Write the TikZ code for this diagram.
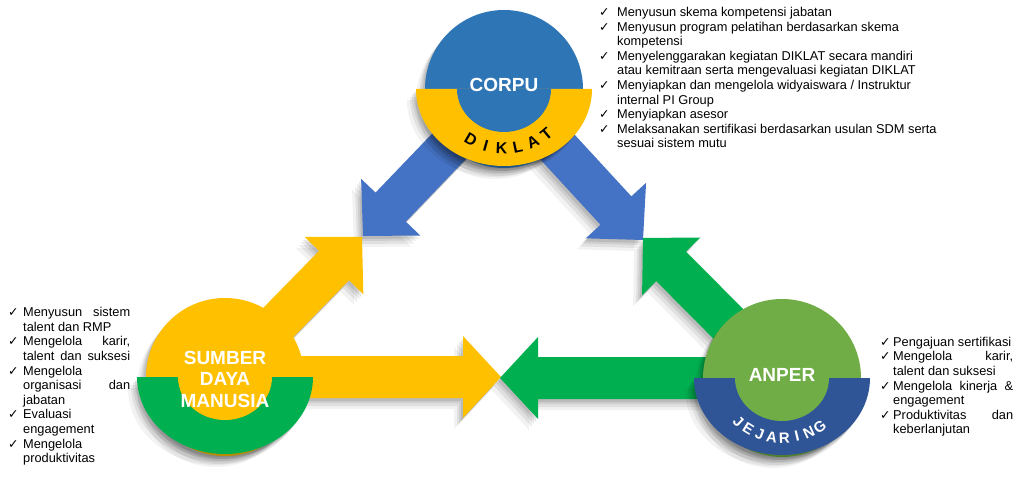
\documentclass[tikz,border=0pt]{standalone}
\usepackage{fontspec}
\setmainfont{Liberation Sans}
\newfontfamily\checkfont{DejaVu Sans}
\usetikzlibrary{calc,shadows}

\definecolor{corpublue}{HTML}{2E75B6}
\definecolor{arrowblue}{HTML}{4472C4}
\definecolor{gold}{HTML}{FFC000}
\definecolor{leafgreen}{HTML}{00B050}
\definecolor{olivegreen}{HTML}{70AD47}
\definecolor{jejaringblue}{HTML}{2F5597}

\newlength\chkw
\newcommand\chk{\makebox[\chkw][l]{\checkfont\fontsize{12.5}{12.5}\selectfont ✓}}
\newcommand\skipchk{\hspace*{\chkw}}
\newcommand\spreadline[2]{\makebox[#1][s]{#2}}
% [head length] style, from, tip
\newcommand\blockarrow[4][40pt]{%
  \coordinate (back) at ($(#4)!#1!(#3)$);
  \fill[#2] ($(#3)!21pt!90:(#4)$) -- ($(back)!21pt!90:(#4)$) -- ($(back)!41pt!90:(#4)$) -- (#4)
    -- ($(back)!41pt!-90:(#4)$) -- ($(back)!21pt!-90:(#4)$) -- ($(#3)!21pt!-90:(#4)$) -- cycle;}

\begin{document}
\begin{tikzpicture}[x=1pt,y=-1pt,
  softshadow/.style={drop shadow={shadow xshift=-2pt,shadow yshift=-3pt,opacity=.09,fill=black},
    drop shadow={shadow xshift=-4pt,shadow yshift=-5pt,opacity=.08,fill=black},
    drop shadow={shadow xshift=-6pt,shadow yshift=-8pt,opacity=.07,fill=black},
    drop shadow={shadow xshift=-9pt,shadow yshift=-11pt,opacity=.05,fill=black}},
  title/.style={text=white,font=\fontsize{19}{21.5}\selectfont\bfseries,align=center,inner sep=0pt},
  arcletter/.style={font=\fontsize{16}{16}\selectfont\bfseries,inner sep=0pt},
  tasklist/.style={align=left,inner sep=0pt,anchor=north west,
    font=\fontsize{12.8}{14.6}\selectfont\setlength\chkw{#1}}]
  \path[use as bounding box,fill=white] (0,0) rectangle (1021,489);

  \coordinate (corpu) at (504,89);
  \coordinate (sdm) at (225,377);
  \coordinate (anper) at (782,378);
  \coordinate (bl) at (363,236);
  \coordinate (br) at (643,240);
  \coordinate (yl) at (362,237);
  \coordinate (gr) at (643,238);
  \coordinate (ym) at (501,377);
  \coordinate (gm) at (500,378);

  % arrows
  \blockarrow{arrowblue,softshadow}{corpu}{bl}
  \blockarrow{arrowblue,softshadow}{corpu}{br}
  \blockarrow{gold,softshadow}{sdm}{yl}
  \blockarrow{leafgreen,softshadow}{anper}{gr}
  \blockarrow[38pt]{gold,softshadow}{sdm}{ym}
  \blockarrow[38pt]{leafgreen,softshadow}{anper}{gm}

  % circles
  \foreach \emb/\topcol/\ringcol in {corpu/corpublue/gold,sdm/gold/leafgreen,anper/olivegreen/jejaringblue}{
    \fill[\topcol,softshadow] (\emb) circle (79);
    \fill[\ringcol,softshadow] ($(\emb)+(-88,0)$) arc[start angle=180,end angle=0,x radius=88,y radius=77] -- cycle;
    \fill[\topcol] ($(\emb)+(-47,0)$) arc[start angle=180,end angle=0,x radius=47,y radius=43] -- cycle;
  }

  \node[title] (corputext) at ($(corpu)+(0,-4)$) {CORPU};
  \node[title] (sdmtext) at ($(sdm)+(0,2)$) {SUMBER\\DAYA\\MANUSIA};
  \node[title] (anpertext) at ($(anper)+(0,-3)$) {ANPER};

  \foreach \l [count=\i] in {D,I,K,L,A,T}
    \node[arcletter,rotate={316+14*\i}] (diklat\i) at ($(corpu)+({66*cos(226+14*\i)},{-59*sin(226+14*\i)})$) {\l};
  \foreach \l [count=\i] in {J,E,J,A,R,I,N,G}
    \node[arcletter,text=white,font=\fontsize{15}{15}\selectfont\bfseries,rotate={305.7+11.3*\i}] (jejaring\i)
      at ($(anper)+({64*cos(215.7+11.3*\i)},{-60*sin(215.7+11.3*\i)})$) {\l};

  % lists
  \node[tasklist=18pt] (corpulist) at (599,7) {\chk Menyusun skema kompetensi jabatan\\
    \chk Menyusun program pelatihan berdasarkan skema\\
    \skipchk kompetensi\\
    \chk Menyelenggarakan kegiatan DIKLAT secara mandiri\\
    \skipchk atau kemitraan serta mengevaluasi kegiatan DIKLAT\\
    \chk Menyiapkan dan mengelola widyaiswara / Instruktur\\
    \skipchk internal PI Group\\
    \chk Menyiapkan asesor\\
    \chk Melaksanakan sertifikasi berdasarkan usulan SDM serta\\
    \skipchk sesuai sistem mutu};
  \node[tasklist=15pt] (sdmlist) at (8,307.3) {\chk \spreadline{107pt}{Menyusun sistem}\\
    \skipchk talent dan RMP\\
    \chk \spreadline{107pt}{Mengelola karir,}\\
    \skipchk \spreadline{107pt}{talent dan suksesi}\\
    \chk Mengelola\\
    \skipchk \spreadline{107pt}{organisasi dan}\\
    \skipchk jabatan\\
    \chk Evaluasi\\
    \skipchk engagement\\
    \chk Mengelola\\
    \skipchk produktivitas};
  \node[tasklist=13pt] (anperlist) at (880,336.8) {\chk Pengajuan sertifikasi\\
    \chk \spreadline{120pt}{Mengelola karir,}\\
    \skipchk talent dan suksesi\\
    \chk \spreadline{120pt}{Mengelola kinerja \&}\\
    \skipchk engagement\\
    \chk \spreadline{120pt}{Produktivitas dan}\\
    \skipchk keberlanjutan};
\end{tikzpicture}
\end{document}
